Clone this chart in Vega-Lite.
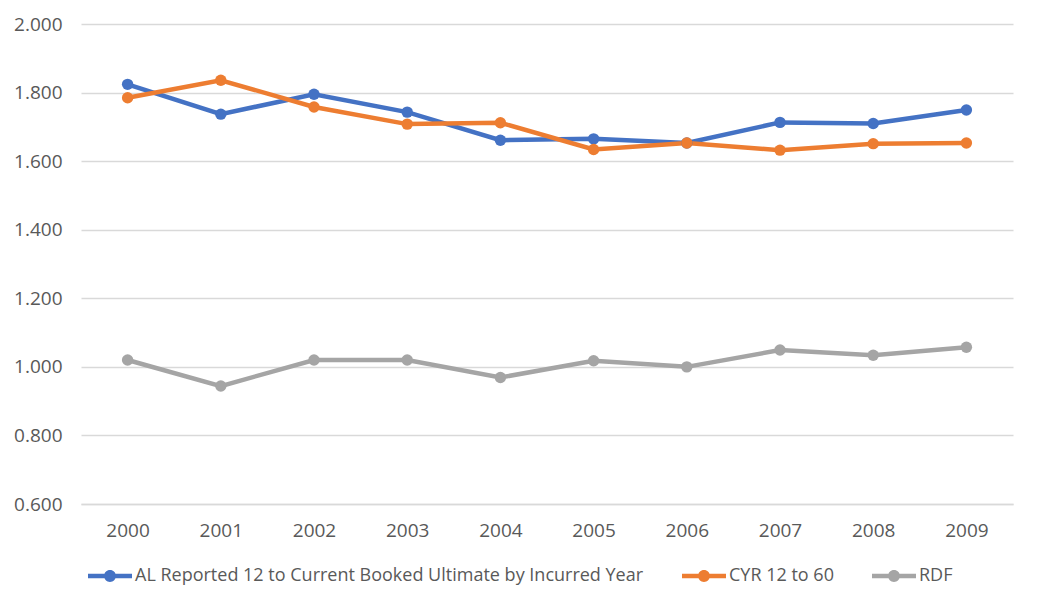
{
  "$schema": "https://vega.github.io/schema/vega-lite/v6.json",
  "width": 932,
  "height": 480,
  "autosize": {"type": "none"},
  "padding": {"left": 81, "top": 24, "right": 24, "bottom": 104},
  "background": "white",
  "data": {
    "values": [
      {"year": "2000", "series": "AL Reported 12 to Current Booked Ultimate by Incurred Year", "value": 1.824},
      {"year": "2001", "series": "AL Reported 12 to Current Booked Ultimate by Incurred Year", "value": 1.737},
      {"year": "2002", "series": "AL Reported 12 to Current Booked Ultimate by Incurred Year", "value": 1.795},
      {"year": "2003", "series": "AL Reported 12 to Current Booked Ultimate by Incurred Year", "value": 1.743},
      {"year": "2004", "series": "AL Reported 12 to Current Booked Ultimate by Incurred Year", "value": 1.661},
      {"year": "2005", "series": "AL Reported 12 to Current Booked Ultimate by Incurred Year", "value": 1.665},
      {"year": "2006", "series": "AL Reported 12 to Current Booked Ultimate by Incurred Year", "value": 1.653},
      {"year": "2007", "series": "AL Reported 12 to Current Booked Ultimate by Incurred Year", "value": 1.713},
      {"year": "2008", "series": "AL Reported 12 to Current Booked Ultimate by Incurred Year", "value": 1.710},
      {"year": "2009", "series": "AL Reported 12 to Current Booked Ultimate by Incurred Year", "value": 1.749},
      {"year": "2000", "series": "CYR 12 to 60", "value": 1.785},
      {"year": "2001", "series": "CYR 12 to 60", "value": 1.836},
      {"year": "2002", "series": "CYR 12 to 60", "value": 1.758},
      {"year": "2003", "series": "CYR 12 to 60", "value": 1.708},
      {"year": "2004", "series": "CYR 12 to 60", "value": 1.712},
      {"year": "2005", "series": "CYR 12 to 60", "value": 1.634},
      {"year": "2006", "series": "CYR 12 to 60", "value": 1.653},
      {"year": "2007", "series": "CYR 12 to 60", "value": 1.632},
      {"year": "2008", "series": "CYR 12 to 60", "value": 1.651},
      {"year": "2009", "series": "CYR 12 to 60", "value": 1.653},
      {"year": "2000", "series": "RDF", "value": 1.020},
      {"year": "2001", "series": "RDF", "value": 0.944},
      {"year": "2002", "series": "RDF", "value": 1.020},
      {"year": "2003", "series": "RDF", "value": 1.020},
      {"year": "2004", "series": "RDF", "value": 0.969},
      {"year": "2005", "series": "RDF", "value": 1.018},
      {"year": "2006", "series": "RDF", "value": 1.000},
      {"year": "2007", "series": "RDF", "value": 1.049},
      {"year": "2008", "series": "RDF", "value": 1.034},
      {"year": "2009", "series": "RDF", "value": 1.057}
    ]
  },
  "mark": {
    "type": "line",
    "strokeWidth": 4.5,
    "point": {"filled": true, "size": 130, "shape": "circle"}
  },
  "encoding": {
    "x": {
      "field": "year",
      "type": "ordinal",
      "scale": {"type": "point", "padding": 0.5},
      "axis": {
        "title": null,
        "labelAngle": 0,
        "domain": true,
        "domainColor": "#D9D9D9",
        "domainWidth": 1.3,
        "ticks": false,
        "labelPadding": 17,
        "labelFont": "Open Sans",
        "labelFontSize": 19,
        "labelColor": "#595959"
      }
    },
    "y": {
      "field": "value",
      "type": "quantitative",
      "scale": {"domain": [0.6, 2.0], "nice": false, "zero": false},
      "axis": {
        "title": null,
        "values": [0.6, 0.8, 1.0, 1.2, 1.4, 1.6, 1.8, 2.0],
        "format": ".3f",
        "domain": false,
        "ticks": false,
        "grid": true,
        "gridColor": "#D9D9D9",
        "gridWidth": 1.3,
        "labelPadding": 19,
        "labelFont": "Open Sans",
        "labelFontSize": 19,
        "labelColor": "#595959"
      }
    },
    "color": {
      "field": "series",
      "type": "nominal",
      "scale": {
        "domain": ["AL Reported 12 to Current Booked Ultimate by Incurred Year", "CYR 12 to 60", "RDF"],
        "range": ["#4472C4", "#ED7D31", "#A5A5A5"]
      },
      "legend": {
        "title": null,
        "orient": "none",
        "direction": "horizontal",
        "legendX": 7,
        "legendY": 530,
        "symbolType": "M-1,-0.105L1,-0.105L1,0.105L-1,0.105Z M-0.27,0A0.27,0.27 0 1,1 0.27,0A0.27,0.27 0 1,1 -0.27,0Z",
        "symbolSize": 1936,
        "symbolStrokeWidth": 0,
        "labelOffset": 3,
        "columnPadding": 38,
        "labelFont": "Open Sans",
        "labelFontSize": 18,
        "labelColor": "#595959",
        "labelLimit": 800,
        "encode": {
          "symbols": {
            "update": {
              "fill": {"scale": "color", "field": "value"},
              "fillOpacity": {"value": 1},
              "strokeWidth": {"value": 0}
            }
          }
        }
      }
    }
  },
  "config": {
    "view": {"stroke": null}
  }
}
